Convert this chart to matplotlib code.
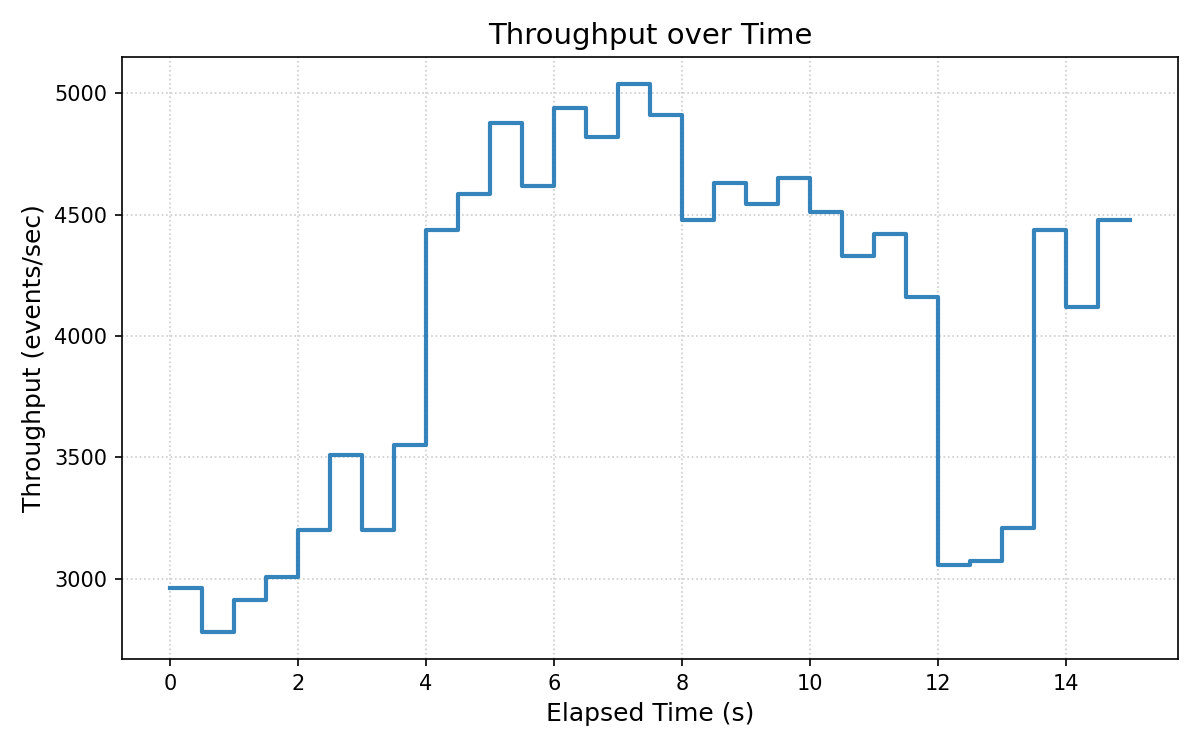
import matplotlib
matplotlib.use("Agg")
import matplotlib.pyplot as plt
import numpy as np

# elapsed time (s), sampled every 0.5 s
elapsed = np.arange(0, 15.5, 0.5)

# throughput (events/sec) per interval
throughput = [
    2959, 2781, 2913, 3008, 3198, 3508, 3202, 3550,
    4438, 4587, 4876, 4620, 4938, 4822, 5037, 4909,
    4479, 4632, 4545, 4653, 4512, 4331, 4421, 4161,
    3054, 3074, 3207, 4438, 4120, 4479, 4479,
]

fig, ax = plt.subplots(figsize=(8, 5), dpi=150)

ax.step(elapsed, throughput, where="post", color="tab:blue", alpha=0.9, linewidth=2)

ax.set_title("Throughput over Time", fontsize=14)
ax.set_xlabel("Elapsed Time (s)", fontsize=12)
ax.set_ylabel("Throughput (events/sec)", fontsize=12)
ax.grid(True, linestyle=":", color="#cccccc", linewidth=0.8)
ax.set_axisbelow(True)

fig.subplots_adjust(left=0.1017, right=0.9817, top=0.924, bottom=0.1213)
fig.savefig("out.png", dpi=150)
